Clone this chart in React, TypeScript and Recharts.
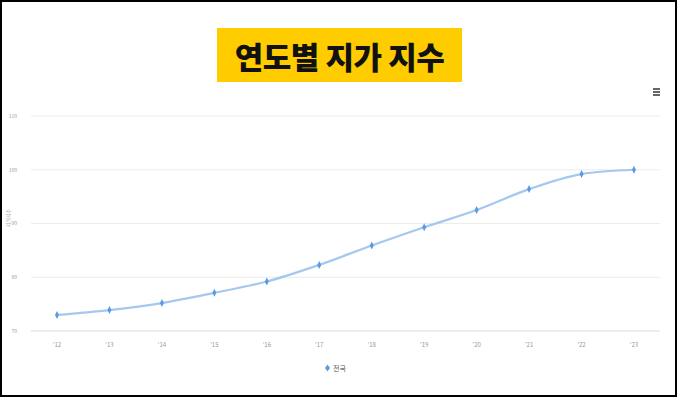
import { CartesianGrid, Line, LineChart, XAxis, YAxis } from 'recharts'

const years = ["'12", "'13", "'14", "'15", "'16", "'17", "'18", "'19", "'20", "'21", "'22", "'23"]
const landIndex = [73.0, 73.9, 75.2, 77.1, 79.2, 82.3, 85.9, 89.3, 92.5, 96.4, 99.2, 100.0]
const yTicks = [70, 80, 90, 100, 110]

const data = years.map((year, i) => ({ year, value: landIndex[i] }))

const Diamond = (props: any) => {
  const { cx, cy } = props
  if (cx == null || cy == null) return null
  return (
    <path
      d={`M${cx},${cy - 4} L${cx + 2},${cy} L${cx},${cy + 4} L${cx - 2},${cy} Z`}
      fill='#5a9be0'
    />
  )
}

export default function App() {
  return (
    <div
      style={{
        position: 'relative',
        width: 677,
        height: 397,
        boxSizing: 'border-box',
        border: '2px solid #000',
        background: '#fff',
        fontFamily: '"Noto Sans CJK KR", "Noto Sans", sans-serif',
        overflow: 'hidden',
      }}
    >
      <style>{'body{margin:0}'}</style>
      <div style={{ position: 'absolute', left: -2, top: -2 }}>
        <LineChart
          width={677}
          height={397}
          data={data}
          margin={{ top: 116, right: 17, bottom: 46, left: 13 }}
        >
          <CartesianGrid vertical={false} stroke='#ececec' />
          <XAxis
            dataKey='year'
            padding={{ left: 26, right: 26 }}
            axisLine={{ stroke: '#dfe6f3' }}
            tickLine={false}
            height={20}
            tick={{ fill: '#999', fontSize: 6 }}
            tickMargin={6}
          />
          <YAxis
            domain={[70, 110]}
            ticks={yTicks}
            width={18}
            axisLine={false}
            tickLine={false}
            tick={{ fill: '#999', fontSize: 5 }}
            tickMargin={8}
          />
          <Line
            type='monotone'
            dataKey='value'
            stroke='#a4c8f0'
            strokeWidth={2.2}
            dot={<Diamond />}
            activeDot={false}
            isAnimationActive={false}
          />
        </LineChart>
      </div>

      <div
        style={{
          position: 'absolute',
          left: 215,
          top: 26,
          width: 245,
          height: 54,
          background: '#ffcc00',
          display: 'flex',
          alignItems: 'center',
          justifyContent: 'center',
          fontSize: 31,
          fontWeight: 900,
          color: '#111',
          letterSpacing: -0.5,
        }}
      >
        연도별 지가 지수
      </div>

      <div
        style={{
          position: 'absolute',
          left: 5,
          top: 216,
          fontSize: 5,
          color: '#aaa',
          transform: 'translate(-50%, -50%) rotate(-90deg)',
          whiteSpace: 'nowrap',
        }}
      >
        지가지수
      </div>

      {/* menu icon */}
      <div style={{ position: 'absolute', left: 651, top: 86, width: 7 }}>
        {[0, 1, 2].map((i) => (
          <div key={i} style={{ height: 2, background: '#666', marginBottom: 1 }} />
        ))}
      </div>

      {/* legend */}
      <div
        style={{
          position: 'absolute',
          left: 322,
          top: 361,
          display: 'flex',
          alignItems: 'center',
          gap: 2,
          fontSize: 7,
          color: '#555',
        }}
      >
        <svg width={7} height={8}>
          <path d='M3.5,0.5 L6,4 L3.5,7.5 L1,4 Z' fill='#5a9be0' />
        </svg>
        <span>전국</span>
      </div>
    </div>
  )
}
